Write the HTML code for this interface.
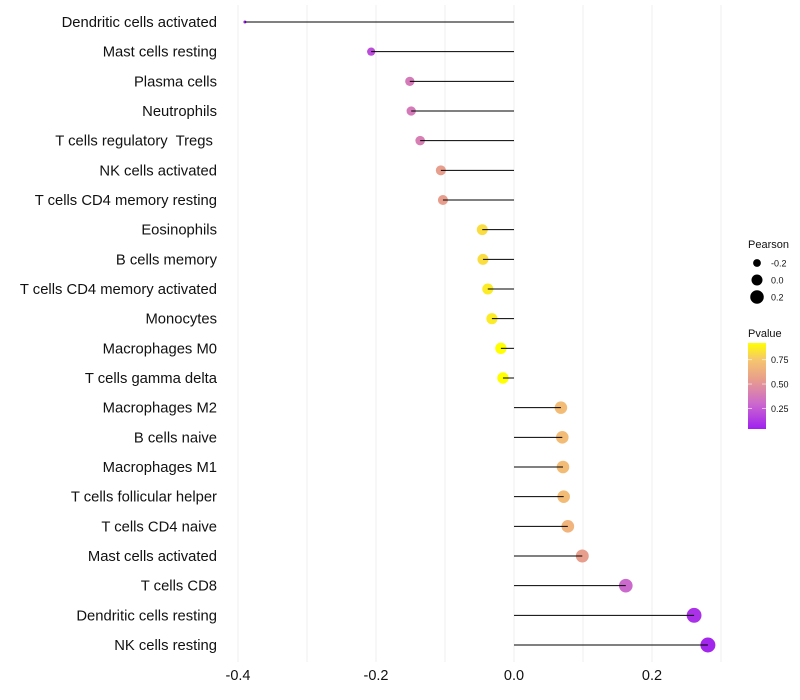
<!DOCTYPE html>
<html><head><meta charset="utf-8"><style>
body{margin:0;background:#fff;}
svg{font-family:"Liberation Sans",sans-serif;display:block}
</style></head><body>
<svg id="chart" width="800" height="700"></svg>
<script>
const categories=["Dendritic cells activated","Mast cells resting","Plasma cells","Neutrophils","T cells regulatory  Tregs ","NK cells activated","T cells CD4 memory resting","Eosinophils","B cells memory","T cells CD4 memory activated","Monocytes","Macrophages M0","T cells gamma delta","Macrophages M2","B cells naive","Macrophages M1","T cells follicular helper","T cells CD4 naive","Mast cells activated","T cells CD8","Dendritic cells resting","NK cells resting"];
const pearson=[-0.39,-0.207,-0.151,-0.149,-0.136,-0.106,-0.103,-0.046,-0.045,-0.038,-0.032,-0.019,-0.016,0.068,0.07,0.071,0.072,0.078,0.099,0.162,0.261,0.281];
const pvalue=[0.04,0.2,0.38,0.38,0.4,0.55,0.55,0.82,0.82,0.86,0.86,0.92,0.92,0.7,0.7,0.7,0.7,0.66,0.55,0.3,0.1,0.06];
const xTicks=[-0.4,-0.2,0.0,0.2];
const gridVals=[-0.4,-0.3,-0.2,-0.1,0,0.1,0.2,0.3];
const NS="http://www.w3.org/2000/svg";
const svg=document.getElementById('chart');
const xs=v=>514+v*690;
const ys=i=>22+i*(623/21);
const rs=v=>Math.sqrt(Math.max(0,2.25+80.6*(v+0.39)));
const stops=[[0.04,[160,32,240]],[0.3,[204,105,205]],[0.55,[232,158,140]],[0.75,[246,198,110]],[0.92,[255,255,0]]];
function col(p){if(p<=stops[0][0])return`rgb(${stops[0][1]})`;for(let k=1;k<stops.length;k++){if(p<=stops[k][0]){const a=stops[k-1],b=stops[k],t=(p-a[0])/(b[0]-a[0]);return`rgb(${a[1].map((c,j)=>Math.round(c+(b[1][j]-c)*t))})`;}}return`rgb(${stops[stops.length-1][1]})`;}
function el(tag,at,txt){const e=document.createElementNS(NS,tag);for(const k in at)e.setAttribute(k,at[k]);if(txt!==undefined)e.textContent=txt;svg.appendChild(e);return e;}
gridVals.forEach(v=>{const g=el('line',{x1:xs(v),x2:xs(v),y1:5,y2:662,stroke:'#efefef','stroke-width':1});

});
xTicks.forEach(v=>{const t=el('text',{x:xs(v),y:680,'font-size':14.5,'text-anchor':'middle',fill:'#111'},v.toFixed(1));

});
categories.forEach((c,i)=>{
const y=ys(i);
const t=el('text',{x:217,y:y+5,'font-size':14.8,'text-anchor':'end',fill:'#111',style:'white-space:pre'},c);


const p=el('circle',{cx:xs(pearson[i]),cy:y,r:rs(pearson[i]),fill:col(pvalue[i])});


const l=el('line',{x1:xs(0),x2:xs(pearson[i]),y1:y,y2:y,stroke:'#000','stroke-width':1});


});
const lt=el('text',{x:748,y:248,'font-size':11,fill:'#111'},'Pearson');

const legVals=[-0.2,0.0,0.2];
legVals.forEach((v,k)=>{const y=263+k*17;
const c=el('circle',{cx:757,cy:y,r:rs(v)-0.3,fill:'#000'});

const t=el('text',{x:771,y:y+3.5,'font-size':9,fill:'#111'},v.toFixed(1));
});
const pt=el('text',{x:748,y:337,'font-size':11,fill:'#111'},'Pvalue');

const defs=el('defs',{});const lg=document.createElementNS(NS,'linearGradient');lg.setAttribute('id','gr');lg.setAttribute('x1',0);lg.setAttribute('y1',1);lg.setAttribute('x2',0);lg.setAttribute('y2',0);defs.appendChild(lg);
stops.forEach(s=>{const st=document.createElementNS(NS,'stop');st.setAttribute('offset',(s[0]-0.04)/0.88);st.setAttribute('stop-color',`rgb(${s[1]})`);lg.appendChild(st);});
const bar=el('rect',{x:748,y:343,width:18,height:86,fill:'url(#gr)'});

const cbTicks=[0.25,0.5,0.75];
cbTicks.forEach(v=>{const y=429-(v-0.04)/0.88*86;
el('line',{x1:748,x2:752,y1:y,y2:y,stroke:'#fff','stroke-opacity':0.6});el('line',{x1:762,x2:766,y1:y,y2:y,stroke:'#fff','stroke-opacity':0.6});
const t=el('text',{x:771,y:y+3.5,'font-size':9,fill:'#111'},v.toFixed(2));
});
</script>
</body></html>
